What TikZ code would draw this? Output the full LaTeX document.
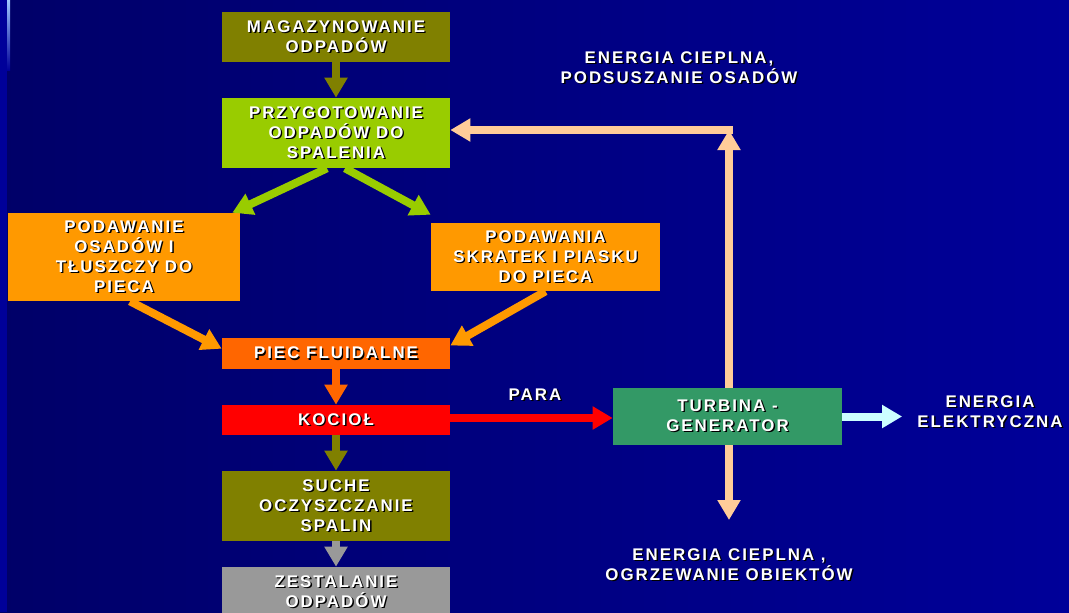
\documentclass[tikz,border=0pt]{standalone}
\usepackage{fontspec}
\setmainfont[LetterSpace=12]{Liberation Sans}
\usetikzlibrary{arrows.meta}
\definecolor{tlo1}{RGB}{0,0,104}
\definecolor{tlo2}{RGB}{0,0,153}
\definecolor{oliwka}{RGB}{128,128,0}
\definecolor{limonka}{RGB}{153,204,0}
\definecolor{pomar}{RGB}{255,153,0}
\definecolor{pomar2}{RGB}{255,102,0}
\definecolor{czerw}{RGB}{255,0,0}
\definecolor{szary}{RGB}{153,153,153}
\definecolor{zielen}{RGB}{51,153,102}
\definecolor{brzoskw}{RGB}{255,204,153}
\definecolor{blekit}{RGB}{204,255,255}
\newcommand{\sh}[1]{\rlap{\kern1pt\raisebox{-1pt}{\color{black}#1}}#1}

\begin{document}
\begin{tikzpicture}[x=0.025cm,y=-0.025cm,
    napis/.style={text=white, align=center, inner sep=0pt,
      font=\bfseries\fontsize{12}{14.2}\selectfont},
    blok/.style={napis, minimum width=5.7cm},
    strz/.style={line width=0.2cm, -{Triangle[width=0.55cm,length=0.5cm]}}]
  \clip (0,0) rectangle (1069,612);
  \shade[left color=tlo1, right color=tlo2] (0,0) rectangle (1069,612);
  \fill[tlo2] (0,0) rectangle (7,612);
  \shade[top color={rgb,255:red,160;green,200;blue,255}, bottom color=tlo2] (7,0) rectangle (10,70);

  % bloki
  \node[blok, fill=oliwka, minimum height=1.25cm] (mag) at (336,37) {\sh{MAGAZYNOWANIE}\\\sh{ODPADÓW}};
  \node[blok, fill=limonka, minimum height=1.75cm] (przyg) at (336,133) {\sh{PRZYGOTOWANIE}\\\sh{ODPADÓW DO}\\\sh{SPALENIA}};
  \node[blok, fill=pomar, minimum width=5.8cm, minimum height=2.2cm] (podos) at (124,257) {\sh{PODAWANIE}\\\sh{OSADÓW I}\\\sh{TŁUSZCZY DO}\\\sh{PIECA}};
  \node[blok, fill=pomar, minimum width=5.725cm, minimum height=1.7cm] (podskr) at (545.5,257) {\sh{PODAWANIA}\\\sh{SKRATEK I PIASKU}\\\sh{DO PIECA}};
  \node[blok, fill=pomar2, minimum height=0.775cm] (piec) at (336,353.5) {\sh{PIEC FLUIDALNE}};
  \node[blok, fill=czerw, minimum height=0.75cm] (kociol) at (336,420) {\sh{KOCIOŁ}};
  \node[blok, fill=oliwka, minimum height=1.75cm] (suche) at (336,506) {\sh{SUCHE}\\\sh{OCZYSZCZANIE}\\\sh{SPALIN}};
  \node[blok, fill=szary, minimum height=1.25cm] (zest) at (336,592) {\sh{ZESTALANIE}\\\sh{ODPADÓW}};
  \node[blok, fill=zielen, minimum width=5.725cm, minimum height=1.425cm] (turb) at (727.5,416.5) {\sh{TURBINA -}\\\sh{GENERATOR}};

  % napisy
  \node[napis] (ciepgora) at (679,68) {\sh{ENERGIA CIEPLNA,}\\\sh{PODSUSZANIE OSADÓW}};
  \node[napis] (para) at (535,395) {\sh{PARA}};
  \node[napis] (elek) at (990,412) {\sh{ENERGIA}\\\sh{ELEKTRYCZNA}};
  \node[napis] (ciepdol) at (729,565) {\sh{ENERGIA CIEPLNA ,}\\\sh{OGRZEWANIE OBIEKTÓW}};
  \coordinate (gora) at (729,130);
  \coordinate (dol) at (729,520);

  % strzalki
  \draw[strz, oliwka] (mag) -- (przyg);
  \draw[strz, limonka] ([xshift=-0.225cm]przyg.south) -- ([xshift=-0.2cm]podos.north east);
  \draw[strz, limonka] ([xshift=0.225cm]przyg.south) -- ([yshift=0.2cm]podskr.north west);
  \draw[strz, pomar] ([xshift=0.15cm]podos.south) -- ([yshift=0.12cm]piec.west);
  \draw[strz, pomar] (podskr.south) -- ([yshift=0.2cm]piec.east);
  \draw[strz, pomar2] (piec) -- (kociol);
  \draw[strz, czerw] ([yshift=0.05cm]kociol.east) -- ([yshift=0.05cm]kociol.east -| turb.west);
  \draw[strz, oliwka] (kociol) -- (suche);
  \draw[strz, szary] (suche) -- (zest);
  \draw[strz, blekit] (turb.east) -- ([xshift=-0.375cm]turb.east -| elek.west);
  \draw[strz, brzoskw] (turb.south -| dol) -- (dol);
  \draw[strz, brzoskw] (turb.north -| gora) -- (gora);
  \draw[strz, brzoskw] ([xshift=0.1cm]gora) -- (gora -| przyg.east);
\end{tikzpicture}
\end{document}
